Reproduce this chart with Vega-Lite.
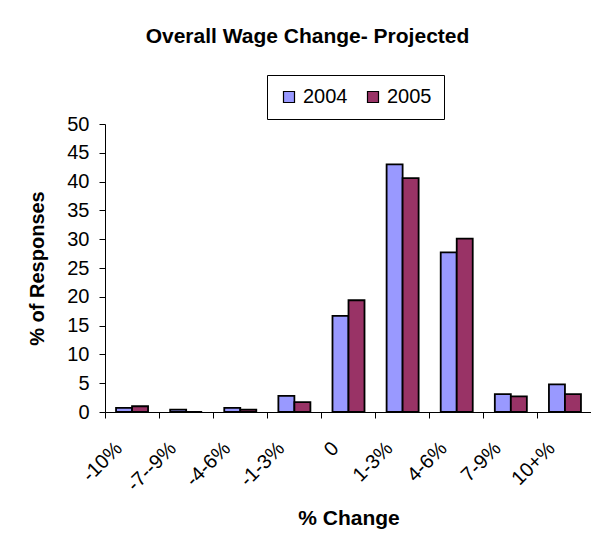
{
  "$schema": "https://vega.github.io/schema/vega-lite/v6.json",
  "autosize": {"type": "none"},
  "padding": {"left": 105, "top": 124, "right": 0, "bottom": 123},
  "width": 487,
  "height": 288,
  "background": "white",
  "title": {
    "text": "Overall Wage Change- Projected",
    "font": "Liberation Sans",
    "fontSize": 21,
    "fontWeight": "bold",
    "color": "black",
    "anchor": "middle",
    "frame": "group",
    "dx": -41,
    "offset": 28
  },
  "data": {
    "values": [
      {"change": "-10%", "year": "2004", "pct": 0.7},
      {"change": "-10%", "year": "2005", "pct": 1.0},
      {"change": "-7--9%", "year": "2004", "pct": 0.4},
      {"change": "-7--9%", "year": "2005", "pct": 0},
      {"change": "-4-6%", "year": "2004", "pct": 0.7},
      {"change": "-4-6%", "year": "2005", "pct": 0.4},
      {"change": "-1-3%", "year": "2004", "pct": 2.8},
      {"change": "-1-3%", "year": "2005", "pct": 1.7},
      {"change": "0", "year": "2004", "pct": 16.7},
      {"change": "0", "year": "2005", "pct": 19.4},
      {"change": "1-3%", "year": "2004", "pct": 43.0},
      {"change": "1-3%", "year": "2005", "pct": 40.6},
      {"change": "4-6%", "year": "2004", "pct": 27.7},
      {"change": "4-6%", "year": "2005", "pct": 30.1},
      {"change": "7-9%", "year": "2004", "pct": 3.1},
      {"change": "7-9%", "year": "2005", "pct": 2.7},
      {"change": "10+%", "year": "2004", "pct": 4.8},
      {"change": "10+%", "year": "2005", "pct": 3.1}
    ]
  },
  "mark": {"type": "bar", "stroke": "black", "strokeWidth": 1.8},
  "encoding": {
    "x": {
      "field": "change",
      "type": "nominal",
      "sort": null,
      "scale": {"paddingInner": 0, "paddingOuter": 0},
      "axis": {
        "title": "% Change",
        "labelAngle": -45,
        "labelAlign": "right",
        "labelBaseline": "middle",
        "labelFont": "Liberation Sans",
        "labelFontSize": 20,
        "labelColor": "black",
        "labelPadding": 27,
        "labelOffset": -13,
        "labelOverlap": false,
        "labelBound": false,
        "bandPosition": 0,
        "tickSize": 6,
        "tickColor": "black",
        "domainColor": "black",
        "titleFont": "Liberation Sans",
        "titleFontSize": 21,
        "titleFontWeight": "bold",
        "titleColor": "black",
        "titleBaseline": "alphabetic",
        "titleY": 112
      }
    },
    "xOffset": {
      "field": "year",
      "type": "nominal",
      "scale": {"paddingInner": 0, "paddingOuter": 0.69}
    },
    "y": {
      "field": "pct",
      "type": "quantitative",
      "scale": {"domain": [0, 50], "nice": false},
      "axis": {
        "title": "% of Responses",
        "values": [0, 5, 10, 15, 20, 25, 30, 35, 40, 45, 50],
        "grid": false,
        "labelFont": "Liberation Sans",
        "labelFontSize": 20,
        "labelColor": "black",
        "labelPadding": 10,
        "tickSize": 6,
        "tickColor": "black",
        "domainColor": "black",
        "titleFont": "Liberation Sans",
        "titleFontSize": 20,
        "titleFontWeight": "bold",
        "titleColor": "black",
        "titlePadding": 19
      }
    },
    "color": {
      "field": "year",
      "type": "nominal",
      "scale": {"domain": ["2004", "2005"], "range": ["#9999FF", "#993366"]},
      "legend": {
        "title": null,
        "orient": "none",
        "legendX": 162,
        "legendY": -49,
        "direction": "horizontal",
        "strokeColor": "black",
        "padding": 12,
        "symbolType": "square",
        "symbolSize": 121,
        "symbolStrokeColor": "black",
        "symbolStrokeWidth": 1.2,
        "symbolOpacity": 1,
        "labelFont": "Liberation Sans",
        "labelFontSize": 20,
        "labelColor": "black",
        "labelOffset": 4,
        "columnPadding": 15
      }
    }
  },
  "config": {
    "view": {"stroke": null}
  }
}
